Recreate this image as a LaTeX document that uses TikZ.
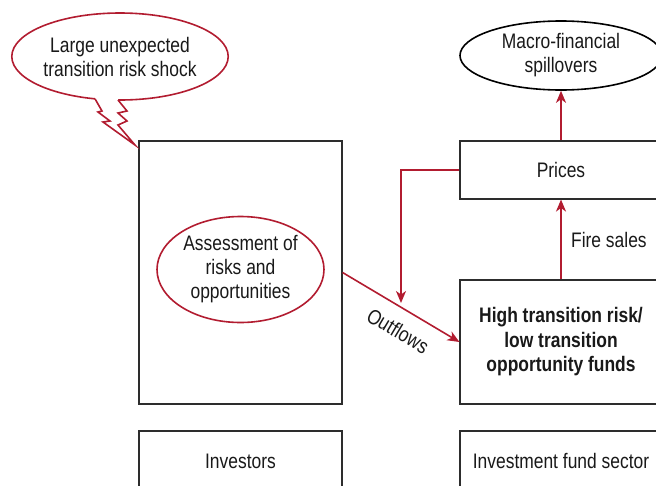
\documentclass[tikz,border=0pt]{standalone}
\usepackage{fontspec}
\setmainfont{Liberation Sans}[FakeStretch=0.83]
\usetikzlibrary{arrows.meta,shapes.geometric}
\definecolor{imfred}{RGB}{178,28,48}
\definecolor{boxline}{RGB}{45,45,45}
\begin{document}
\begin{tikzpicture}[x=1pt,y=-1pt,
  every node/.style={text=black!90,font=\fontsize{21}{24}\selectfont,align=center},
  box/.style={draw=boxline,line width=1.1pt,rectangle,inner sep=0pt},
  redln/.style={draw=imfred,line width=1.6pt},
  redarr/.style={redln,-{Stealth[length=12pt,width=10pt,inset=3.5pt]}},
  bubble/.style={draw=imfred,line width=1.6pt,ellipse,inner sep=0pt,fill=white},
  blackell/.style={draw=black,line width=1.6pt,ellipse,inner sep=0pt}]
\useasboundingbox (0,0) rectangle (656,485);
\clip (0,0) rectangle (656,485);

% boxes
\node[box,minimum width=203,minimum height=263] (left) at (240.5,272.5) {};
\node[box,minimum width=203,minimum height=60] (inv) at (240.5,461) {Investors};
\node[box,minimum width=202,minimum height=58] (prices) at (561,170) {Prices};
\node[box,minimum width=202,minimum height=124,font=\fontsize{21}{24.5}\selectfont\bfseries] (high) at (561,342) {High transition risk/\\low transition\\opportunity funds};
\node[box,minimum width=202,minimum height=60] (fund) at (561,461) {Investment fund sector};

% ellipses
\node[bubble,minimum width=167,minimum height=106] (assess) at (240.5,269.5) {Assessment of\\risks and\\opportunities};
\node[blackell,minimum width=202,minimum height=69] (macro) at (561,55.5) {Macro-financial\\spillovers};
\node[bubble,minimum width=214,minimum height=87] (shock) at (120,56.5) {Large unexpected\\transition risk shock};

% speech bubble tail
\fill[white] (95,94) -- (95,99) -- (102,111) -- (98,112) -- (110,121) -- (103,122) -- (135,145)
  -- (118,125) -- (127,121) -- (118,113) -- (127,111) -- (118,100.5) -- (118,94) -- cycle;
\draw[redln,line join=miter] (95,98.8) -- (102,111) -- (98,112) -- (110,121) -- (103,122) -- (135,145)
  -- (118,125) -- (127,121) -- (118,113) -- (127,111) -- (118,100);

% connectors
\coordinate (drop) at (401,303);
\draw[redarr] (prices.north) -- (macro.south);
\draw[redarr] (high.north) -- (prices.south) node[midway,right=6pt] {Fire sales};
\draw[redarr] (prices.west) -| (drop);
\draw[redarr] (left.east) -- (high.west) node[pos=0.57,sloped,below=10pt] {Outflows};
\end{tikzpicture}
\end{document}
